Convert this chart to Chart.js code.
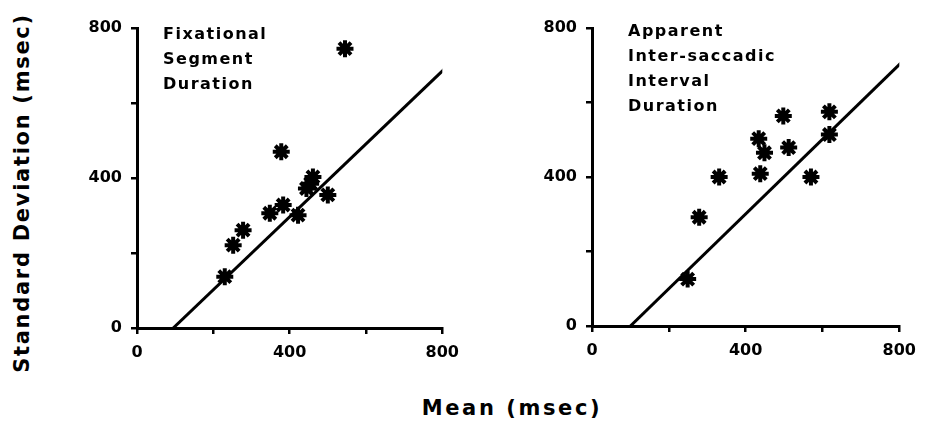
<!DOCTYPE html>
<html>
<head>
<meta charset="utf-8">
<script src="https://cdn.jsdelivr.net/npm/chart.js@4"></script>
<style>
  html, body { margin: 0; padding: 0; background: #fff; }
  body { width: 927px; height: 432px; position: relative; overflow: hidden; font-family: "DejaVu Sans", sans-serif; }
  canvas { position: absolute; }
  #cLeft { left: 60px; top: 0; }
  #cRight { left: 515px; top: 0; }
  .ytitle {
    position: absolute; left: 22px; top: 193px;
    transform: translate(-50%, -50%) rotate(-90deg);
    white-space: nowrap; font-weight: bold; font-size: 21px; color: #000;
    letter-spacing: 1.7px;
  }
  .xtitle {
    position: absolute; left: 512px; top: 408px;
    transform: translate(-50%, -50%);
    white-space: nowrap; font-weight: bold; font-size: 21px; color: #000;
    letter-spacing: 2.6px;
  }
</style>
</head>
<body>
<canvas id="cLeft" width="408" height="380"></canvas>
<canvas id="cRight" width="410" height="380"></canvas>
<div class="ytitle">Standard Deviation (msec)</div>
<div class="xtitle">Mean (msec)</div>
<script>
// Fixational segment duration: mean vs standard deviation (msec)
const fixMean = [230, 252, 278, 348, 383, 422, 444, 461, 455, 500, 378, 545];
const fixSD   = [137, 221, 261, 306, 328, 301, 372, 403, 385, 355, 470, 745];
const fixLineX = [95, 815];
const fixLineY = [0, 700];
const fixLabel = ["Fixational", "Segment", "Duration"];

// Apparent inter-saccadic interval duration: mean vs standard deviation (msec)
const isiMean = [249, 279, 331, 434, 438, 449, 498, 512, 570, 618, 618];
const isiSD   = [126, 292, 400, 503, 409, 465, 564, 479, 400, 575, 514];
const isiLineX = [100, 810];
const isiLineY = [0, 712];
const isiLabel = ["Apparent", "Inter-saccadic", "Interval", "Duration"];

const axisMin = 0, axisMax = 800, axisStep = 200, labelStep = 400;

const toPoints = (xs, ys) => xs.map((x, i) => ({ x, y: ys[i] }));

// Draws the multi-line caption in the upper-left of the plot area
const captionPlugin = {
  id: 'caption',
  afterDraw(chart, args, opts) {
    const { ctx, chartArea } = chart;
    ctx.save();
    ctx.fillStyle = '#000';
    ctx.font = 'bold 16px "DejaVu Sans", sans-serif';
    ctx.letterSpacing = '1.5px';
    ctx.textBaseline = 'middle';
    ctx.textAlign = 'left';
    opts.lines.forEach((t, i) => {
      ctx.fillText(t, chartArea.left + opts.dx, chartArea.top + opts.dy + i * opts.lh);
    });
    ctx.restore();
  }
};

function axis(fixedSize, isY) {
  return {
    type: 'linear',
    min: axisMin, max: axisMax,
    border: { display: true, color: '#000', width: 3 },
    grid: { display: true, drawOnChartArea: false, drawTicks: true, tickLength: 6, color: '#000', lineWidth: 2.5 },
    ticks: {
      stepSize: axisStep,
      color: '#000',
      padding: 9,
      font: { family: '"DejaVu Sans", sans-serif', weight: 'bold', size: 16 },
      maxRotation: 0,
      autoSkip: false,
      callback: v => (v % labelStep === 0 ? String(v) : '')
    },
    afterFit(scale) {
      if (isY) scale.width = fixedSize; else scale.height = fixedSize;
    }
  };
}

function makeChart(id, xs, ys, lx, ly, caption, dx, dy, pad) {
  return new Chart(document.getElementById(id), {
    type: 'scatter',
    data: {
      datasets: [
        {
          data: toPoints(xs, ys),
          pointStyle: 'star',
          pointRadius: 8.5,
          pointBorderWidth: 4,
          borderColor: '#000',
          backgroundColor: '#000'
        },
        {
          type: 'line',
          data: toPoints(lx, ly),
          borderColor: '#000',
          borderWidth: 3,
          pointRadius: 0,
          fill: false
        }
      ]
    },
    options: {
      responsive: false,
      animation: false,
      layout: { padding: pad },
      plugins: {
        legend: { display: false },
        tooltip: { enabled: false },
        caption: { lines: caption, dx, dy, lh: 25 }
      },
      scales: {
        x: axis(52, false),
        y: axis(77, true)
      }
    },
    plugins: [captionPlugin]
  });
}

makeChart('cLeft', fixMean, fixSD, fixLineX, fixLineY, fixLabel, 26, 7,
  { left: 0, right: 25, top: 28, bottom: 0 });
makeChart('cRight', isiMean, isiSD, isiLineX, isiLineY, isiLabel, 36, 4,
  { left: 0, right: 23, top: 28, bottom: 2 });
</script>
</body>
</html>
